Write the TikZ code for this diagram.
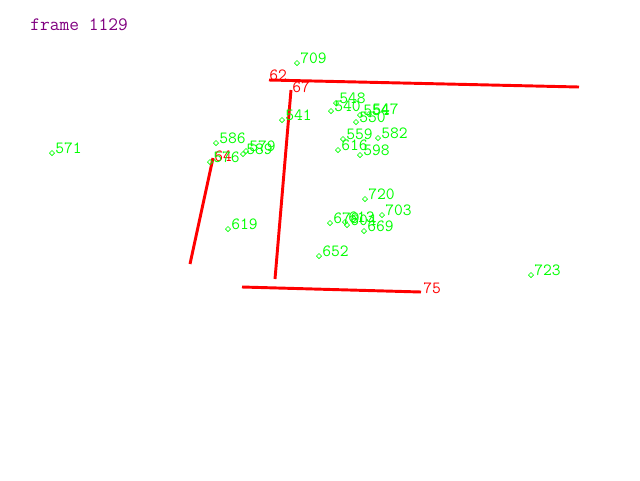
\documentclass[tikz,border=0pt]{standalone}
\usepackage{fontspec}
\usepackage{tikz}
\usetikzlibrary{calc, positioning, shapes.geometric}
\definecolor{vgreen}{RGB}{0,255,0}
\definecolor{vred}{RGB}{255,0,0}
\definecolor{vpurple}{RGB}{128,0,128}
\tikzset{
	pt/.style={diamond, draw=vgreen, line width=0.5pt, inner sep=0, minimum size=4pt},
	lbl/.style={anchor=base west, text=vgreen, inner sep=0, font=\ttfamily\fontsize{12.8}{12.8}\selectfont},
	seg/.style={vred, line width=2.2pt},
	rlbl/.style={anchor=base west, text=vred, inner sep=0, font=\ttfamily\fontsize{12.8}{12.8}\selectfont}
}

\begin{document}
\begin{tikzpicture}[x=0.75pt, y=-0.75pt]
	\useasboundingbox (0,0) rectangle (640,480);
	% titulo %
	\node[anchor=base west, text=vpurple, inner sep=0, font=\ttfamily\fontsize{14.2}{14.2}\selectfont] (frame) at (30,30) {frame 1129};
	% segmentos %
	\coordinate (a62) at (269,80);
	\coordinate (b62) at (579,87);
	\coordinate (a67) at (291,90);
	\coordinate (b67) at (275,279);
	\coordinate (a64) at (213,158);
	\coordinate (b64) at (190,264);
	\coordinate (a75) at (421,292);
	\coordinate (b75) at (242,287);
	\draw[seg] (a62) -- (b62);
	\draw[seg] (a67) -- (b67);
	\draw[seg] (a64) -- (b64);
	\draw[seg] (a75) -- (b75);
	\node[rlbl] (t62) at (a62) {62};
	\node[rlbl] (t67) at ($(a67)+(1,2)$) {67};
	\node[rlbl] (t64) at ($(a64)+(1,3)$) {64};
	\node[rlbl] (t75) at ($(a75)+(2,1)$) {75};
	% puntos %
	\node[pt, label={[lbl]east:709}] (p709) at (297,63) {};
	\node[pt, label={[lbl]east:571}] (p571) at (52,153) {};
	\node[pt, label={[lbl]east:586}] (p586) at (216,143) {};
	\node[pt, label={[lbl]east:576}] (p576) at (210,162) {};
	\node[pt, label={[lbl]east:579}] (p579) at (246,151) {};
	\node[pt, label={[lbl]east:589}] (p589) at (243,154) {};
	\node[pt, label={[lbl]east:541}] (p541) at (282,120) {};
	\node[pt, label={[lbl]east:619}] (p619) at (228,229) {};
	\node[pt, label={[lbl]east:548}] (p548) at (336,103) {};
	\node[pt, label={[lbl]east:540}] (p540) at (331,111) {};
	\node[pt, label={[lbl]east:554}] (p554) at (360,115) {};
	\node[pt, label={[lbl]east:547}] (p547) at (369,114) {};
	\node[pt, label={[lbl]east:550}] (p550) at (356,122) {};
	\node[pt, label={[lbl]east:559}] (p559) at (343,139) {};
	\node[pt, label={[lbl]east:582}] (p582) at (378,138) {};
	\node[pt, label={[lbl]east:616}] (p616) at (338,150) {};
	\node[pt, label={[lbl]east:598}] (p598) at (360,155) {};
	\node[pt, label={[lbl]east:720}] (p720) at (365,199) {};
	\node[pt, label={[lbl]east:703}] (p703) at (382,215) {};
	\node[pt, label={[lbl]east:679}] (p679) at (330,223) {};
	\node[pt, label={[lbl]east:613}] (p613) at (345,222) {};
	\node[pt, label={[lbl]east:604}] (p604) at (347,225) {};
	\node[pt, label={[lbl]east:669}] (p669) at (364,231) {};
	\node[pt, label={[lbl]east:652}] (p652) at (319,256) {};
	\node[pt, label={[lbl]east:723}] (p723) at (531,275) {};
\end{tikzpicture}
\end{document}
